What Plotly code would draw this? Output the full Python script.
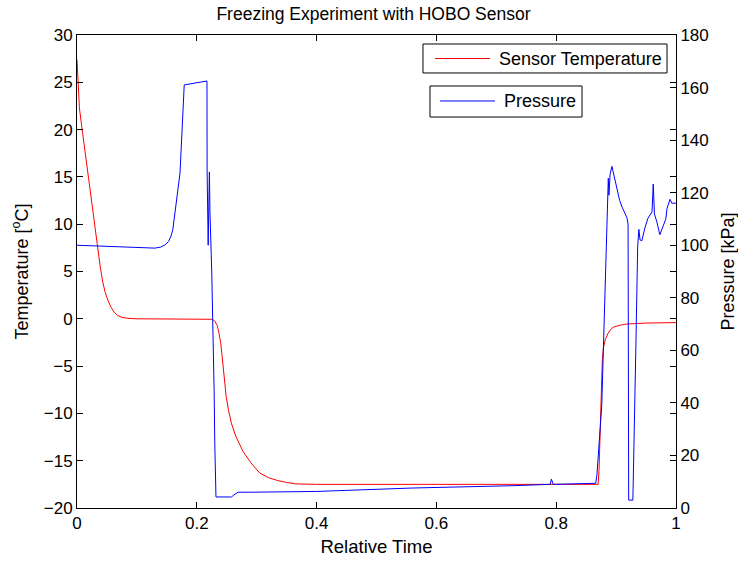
import plotly.graph_objects as go

# Sensor temperature (relative time, degC)
temp_t = [0.0, 0.002, 0.004, 0.008, 0.013, 0.018, 0.022, 0.027, 0.031, 0.035, 0.039, 0.043,
          0.047, 0.052, 0.057, 0.062, 0.068, 0.075, 0.085, 0.100, 0.150, 0.226, 0.230, 0.234,
          0.237, 0.240, 0.242, 0.244, 0.246, 0.249, 0.253, 0.258, 0.265, 0.277, 0.290, 0.305,
          0.320, 0.335, 0.350, 0.365, 0.400, 0.500, 0.600, 0.700, 0.800, 0.870, 0.8715, 0.873,
          0.875, 0.876, 0.877, 0.879, 0.882, 0.886, 0.890, 0.895, 0.905, 0.918, 0.950, 1.0]
temp_v = [27.4, 25.2, 22.3, 20.3, 17.8, 15.4, 13.5, 11.3, 9.3, 7.3, 5.4, 3.9,
          2.8, 1.9, 1.2, 0.7, 0.35, 0.15, 0.05, 0.0, -0.05, -0.05, -0.25, -0.7,
          -1.5, -2.6, -3.8, -5.3, -6.7, -8.2, -9.7, -11.1, -12.4, -14.0, -15.2, -16.3,
          -16.8, -17.1, -17.3, -17.45, -17.5, -17.5, -17.5, -17.5, -17.5, -17.5, -16.0, -13.0,
          -9.3, -6.5, -4.3, -3.0, -2.2, -1.6, -1.2, -0.9, -0.7, -0.55, -0.45, -0.4]

# Pressure (relative time, kPa)
pres_t = [0.0, 0.05, 0.10, 0.13, 0.14, 0.148, 0.153, 0.157, 0.160, 0.162, 0.164, 0.166,
          0.172, 0.179, 0.217, 0.2172, 0.219, 0.221, 0.222, 0.225, 0.227, 0.229, 0.230, 0.232,
          0.258, 0.262, 0.269, 0.290, 0.400, 0.560, 0.730, 0.790, 0.792, 0.795, 0.866, 0.868,
          0.876, 0.881, 0.884, 0.887, 0.888, 0.890, 0.893, 0.896, 0.898, 0.902, 0.906, 0.910,
          0.914, 0.918, 0.920, 0.921, 0.928, 0.930, 0.933, 0.936, 0.938, 0.940, 0.943, 0.948,
          0.953, 0.960, 0.962, 0.964, 0.968, 0.973, 0.978, 0.983, 0.985, 0.990, 0.993, 1.0]
pres_v = [100.0, 99.6, 99.0, 98.9, 99.3, 100.3, 101.5, 103.5, 106.0, 109.5, 113.5, 118.0,
          127.5, 161.0, 162.5, 128.6, 100.0, 127.9, 112.3, 89.4, 71.5, 43.8, 24.7, 4.2,
          4.2, 5.0, 6.0, 6.0, 6.3, 7.6, 8.5, 9.0, 11.0, 9.0, 9.4, 12.6,
          38.8, 76.9, 108.8, 125.5, 119.0, 127.0, 130.0, 127.0, 124.5, 121.0, 117.0, 114.5,
          112.3, 110.5, 108.0, 3.0, 3.0, 23.0, 61.3, 99.4, 106.0, 102.0, 101.7, 106.5,
          110.2, 112.7, 123.3, 111.9, 108.9, 104.0, 107.0, 110.0, 114.0, 117.5, 116.0, 116.0]

series_names = ["Sensor Temperature", "Pressure"]
series_colors = ["#ff0000", "#0000ff"]

FONT = "Liberation Sans, Arial, Helvetica, sans-serif"

fig = go.Figure()
fig.add_trace(go.Scatter(x=temp_t, y=temp_v, mode="lines", name=series_names[0],
                         line=dict(color=series_colors[0], width=1), showlegend=False))
fig.add_trace(go.Scatter(x=pres_t, y=pres_v, mode="lines", name=series_names[1],
                         line=dict(color=series_colors[1], width=1), yaxis="y2",
                         showlegend=False))

axis_common = dict(showgrid=False, zeroline=False, showline=True, linecolor="black",
                   linewidth=1, ticks="inside", ticklen=6, tickcolor="black", automargin=False,
                   tickfont=dict(size=17, color="black", family=FONT))

# MATLAB-style separate legend boxes (paper coordinates of the plot area)
legend_boxes = [
    dict(x0=0.5776, x1=0.9850, y0=0.9197, y1=0.9810, lx0=0.5977, lx1=0.6895, ly=0.9503, tx=0.7012),
    dict(x0=0.5893, x1=0.8431, y0=0.8266, y1=0.8922, lx0=0.6060, lx1=0.6978, ly=0.8605, tx=0.7095),
]
shapes = []
annotations = []
for name, color, b in zip(series_names, series_colors, legend_boxes):
    shapes.append(dict(type="rect", xref="paper", yref="paper", x0=b["x0"], x1=b["x1"],
                       y0=b["y0"], y1=b["y1"], line=dict(color="black", width=1),
                       fillcolor="white", layer="above"))
    shapes.append(dict(type="line", xref="paper", yref="paper", x0=b["lx0"], x1=b["lx1"],
                       y0=b["ly"], y1=b["ly"], line=dict(color=color, width=1), layer="above"))
    annotations.append(dict(text=name, xref="paper", yref="paper", x=b["tx"], y=b["ly"],
                            xanchor="left", yanchor="middle", showarrow=False,
                            font=dict(size=18, color="black", family=FONT)))

fig.update_layout(
    width=738, height=561,
    margin=dict(l=77, r=62, t=35, b=53),
    paper_bgcolor="white", plot_bgcolor="white",
    showlegend=False,
    font=dict(family=FONT, color="black"),
    title=dict(text="Freezing Experiment with HOBO Sensor", x=0.495, xref="paper",
               xanchor="center", y=0.975, yanchor="middle",
               font=dict(size=17.5, color="black", family=FONT)),
    xaxis=dict(range=[0, 1], tickvals=[0, 0.2, 0.4, 0.6, 0.8, 1],
               ticktext=["0", "0.2", "0.4", "0.6", "0.8", "1"], mirror="ticks",
               title=dict(text="Relative Time", font=dict(size=18.5), standoff=7), **axis_common),
    yaxis=dict(range=[-20, 30], mirror="ticks",
               tickvals=[-20, -15, -10, -5, 0, 5, 10, 15, 20, 25, 30],
               ticktext=["\u221220", "\u221215", "\u221210", "\u22125", "0", "5", "10", "15", "20", "25", "30"],
               title=dict(text="Temperature [<sup>o</sup>C]", font=dict(size=18), standoff=10),
               **axis_common),
    yaxis2=dict(range=[0, 180], dtick=20, overlaying="y", side="right",
                title=dict(text="Pressure [kPa]", font=dict(size=18), standoff=14),
                **axis_common),
    shapes=shapes,
    annotations=annotations,
)

fig.write_html("out.html")
